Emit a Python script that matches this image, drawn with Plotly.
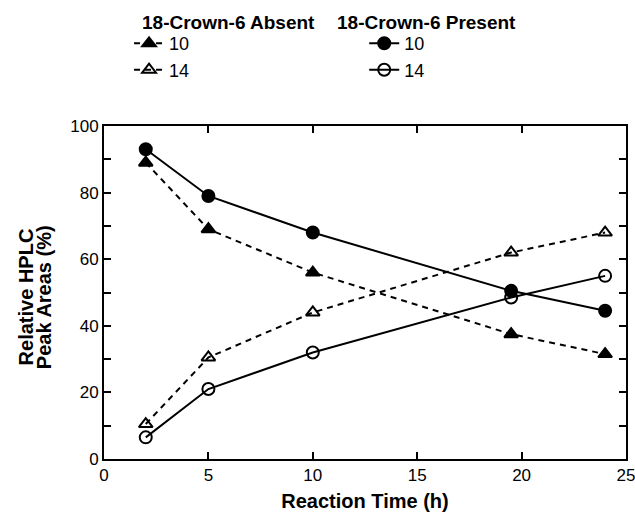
import plotly.graph_objects as go

times = [2, 5, 10, 19.5, 24]
absent_10 = [89, 69, 56, 37.5, 31.5]
absent_14 = [10.5, 30.5, 44, 62, 68]
present_10 = [93, 79, 68, 50.5, 44.5]
present_14 = [6.5, 21, 32, 48.5, 55]

x_ticks = [0, 5, 10, 15, 20, 25]
y_ticks = [0, 20, 40, 60, 80, 100]

header_absent = "18-Crown-6 Absent"
header_present = "18-Crown-6 Present"
x_title = "Reaction Time (h)"
y_title_lines = ["Relative HPLC", "Peak Areas (%)"]

FONT = "Liberation Sans, Arial, Helvetica, sans-serif"

fig = go.Figure()

def add(y, name, symbol, dash, legend):
    fig.add_trace(go.Scatter(
        x=times, y=y, name=name, mode="lines+markers",
        line=dict(color="black", width=2, dash=dash),
        marker=dict(symbol=symbol, size=12,
                    color="black", line=dict(color="black", width=2)),
        legend=legend, cliponaxis=False,
    ))

add(absent_10, "10", "triangle-up", "6px,5px", "legend")
add(absent_14, "14", "triangle-up-open", "6px,5px", "legend")
add(present_10, "10", "circle", "solid", "legend2")
add(present_14, "14", "circle-open", "solid", "legend2")

leg_common = dict(
    bgcolor="rgba(0,0,0,0)", borderwidth=0,
    font=dict(family=FONT, size=18, color="black"),
    xanchor="left", yanchor="top", tracegroupgap=0,
    itemwidth=30,
)

annotations = [
    dict(text="<b>%s</b>" % header_absent, x=0.069, y=1.312, xref="paper", yref="paper",
         xanchor="left", yanchor="middle", showarrow=False,
         font=dict(family=FONT, size=19, color="black")),
    dict(text="<b>%s</b>" % header_present, x=0.4425, y=1.312, xref="paper", yref="paper",
         xanchor="left", yanchor="middle", showarrow=False,
         font=dict(family=FONT, size=19, color="black")),
    dict(text="<b>%s</b>" % y_title_lines[0], x=-0.149, y=0.486, xref="paper", yref="paper",
         xanchor="center", yanchor="middle", textangle=-90, showarrow=False,
         font=dict(family=FONT, size=20, color="black")),
    dict(text="<b>%s</b>" % y_title_lines[1], x=-0.115, y=0.486, xref="paper", yref="paper",
         xanchor="center", yanchor="middle", textangle=-90, showarrow=False,
         font=dict(family=FONT, size=20, color="black")),
]

fig.update_layout(
    width=635, height=529,
    margin=dict(l=104, r=9, t=126, b=70, autoexpand=False),
    paper_bgcolor="white", plot_bgcolor="white",
    font=dict(family=FONT, color="black"),
    legend=dict(x=0.048, y=1.303, **leg_common),
    legend2=dict(x=0.4985, y=1.303, **leg_common),
    annotations=annotations,
    xaxis=dict(
        range=[0, 25], tickvals=x_ticks, ticktext=[str(v) for v in x_ticks],
        ticks="inside", ticklen=7, tickwidth=2, tickcolor="black",
        showline=True, linewidth=2, linecolor="black", mirror="ticks",
        showgrid=False, zeroline=False, ticklabeloverflow="allow",
        tickfont=dict(family=FONT, size=17, color="black"),
        title=dict(text="<b>%s</b>" % x_title,
                   font=dict(family=FONT, size=20, color="black"), standoff=10),
    ),
    yaxis=dict(
        range=[0, 100], tickvals=y_ticks, ticktext=[str(v) for v in y_ticks],
        ticks="inside", ticklen=7, tickwidth=2, tickcolor="black",
        showline=True, linewidth=2, linecolor="black", mirror="ticks",
        showgrid=False, zeroline=False,
        minor=dict(dtick=10, ticks="inside", ticklen=7, tickwidth=2, tickcolor="black"),
        tickfont=dict(family=FONT, size=17, color="black"),
    ),
)

fig.write_html("out.html", config={"displayModeBar": False},
               post_script="document.body.style.margin='0px';")
